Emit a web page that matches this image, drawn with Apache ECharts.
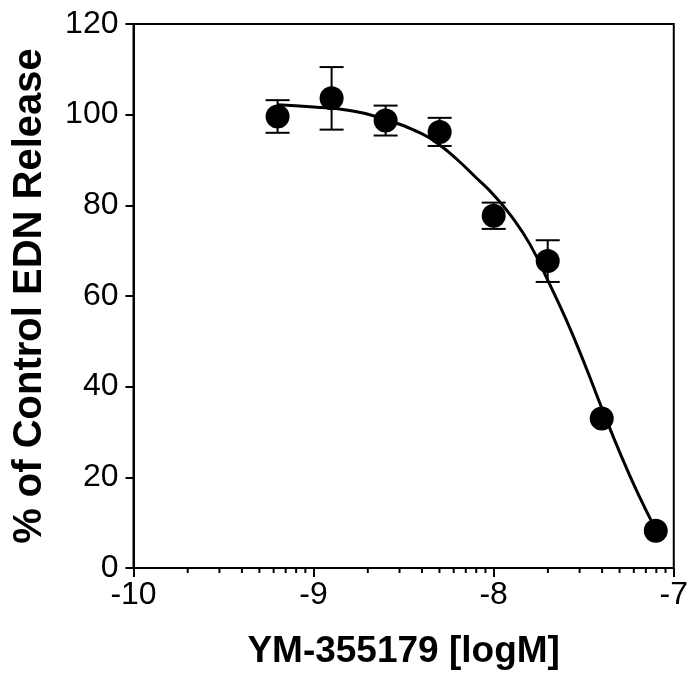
<!DOCTYPE html>
<html>
<head>
<meta charset="utf-8">
<script src="https://cdn.jsdelivr.net/npm/echarts@6/dist/echarts.min.js"></script>
<style>html,body{margin:0;padding:0;background:#fff}#c{width:691px;height:683px}</style>
</head>
<body>
<div id="c"></div>
<script>
// Measured points: log concentration, % of control, SEM
var doseLog = [-9.2, -8.9, -8.6, -8.3, -8.0, -7.7, -7.4, -7.1];
var response = [99.6, 103.6, 98.7, 96.2, 77.7, 67.7, 33.0, 8.2];
var sem = [3.6, 6.9, 3.3, 3.1, 2.9, 4.6, 0, 0];
// Fitted curve
var curveX = [-9.2, -9.0, -8.8, -8.6, -8.4, -8.3, -8.2, -8.1, -8.0, -7.9, -7.8, -7.7, -7.6, -7.5, -7.4, -7.3, -7.2, -7.1];
var curveY = [102.2, 101.7, 100.9, 98.9, 95.8, 93.3, 90.0, 86.2, 82.3, 77.5, 71.5, 63.5, 55.0, 45.5, 35.3, 25.5, 16.5, 8.5];
// Axis ticks
var xTicks = [-10, -9, -8, -7];
var yTicks = [0, 20, 40, 60, 80, 100, 120];
var minorMultipliers = [2, 3, 4, 5, 6, 7, 8, 9];

var minorTicks = [];
for (var d = 0; d < xTicks.length - 1; d++) {
  for (var k = 0; k < minorMultipliers.length; k++) {
    minorTicks.push([xTicks[d] + Math.log10(minorMultipliers[k]), 0]);
  }
}

var chart = echarts.init(document.getElementById('c'), null, {renderer: 'canvas'});
var font = 'Liberation Sans, Arial, sans-serif';
var option = {
  animation: false,
  backgroundColor: '#fff',
  grid: {left: 133.5, right: 14, top: 24, bottom: 115, show: true, borderColor: '#000', borderWidth: 2, containLabel: false},
  xAxis: {
    type: 'value', min: xTicks[0], max: xTicks[xTicks.length - 1], interval: 1,
    name: 'YM-355179 [logM]', nameLocation: 'middle', nameGap: 65,
    nameTextStyle: {fontFamily: font, fontWeight: 'bold', fontSize: 37, color: '#000'},
    axisLine: {show: true, onZero: false, lineStyle: {color: '#000', width: 2}},
    axisTick: {show: true, length: 9, lineStyle: {color: '#000', width: 2}},
    axisLabel: {fontFamily: font, fontSize: 32, color: '#000', margin: 11},
    splitLine: {show: false}
  },
  yAxis: {
    type: 'value', min: yTicks[0], max: yTicks[yTicks.length - 1], interval: 20,
    name: '% of Control EDN Release', nameLocation: 'middle', nameGap: 84,
    nameTextStyle: {fontFamily: font, fontWeight: 'bold', fontSize: 40, color: '#000'},
    axisLine: {show: true, onZero: false, lineStyle: {color: '#000', width: 2}},
    axisTick: {show: true, length: 8, lineStyle: {color: '#000', width: 2}},
    axisLabel: {fontFamily: font, fontSize: 32, color: '#000', margin: 15},
    splitLine: {show: false}
  },
  series: [
    {
      type: 'custom', name: 'minor', clip: false, silent: true, z: 3,
      data: minorTicks,
      renderItem: function (params, api) {
        var p = api.coord([api.value(0), api.value(1)]);
        return {type: 'line', shape: {x1: p[0], y1: p[1], x2: p[0], y2: p[1] + 5}, style: {stroke: '#000', lineWidth: 2}};
      }
    },
    {
      type: 'line', name: 'fit', smooth: true, showSymbol: false, silent: true, z: 4,
      data: curveX.map(function (x, i) { return [x, curveY[i]]; }),
      lineStyle: {color: '#000', width: 3}
    },
    {
      type: 'custom', name: 'err', clip: false, silent: true, z: 5,
      data: doseLog.map(function (x, i) { return [x, response[i], sem[i]]; }),
      renderItem: function (params, api) {
        var x = api.value(0), y = api.value(1), e = api.value(2);
        if (!e) return null;
        var top = api.coord([x, y + e]);
        var bot = api.coord([x, y - e]);
        var hw = 12;
        var st = {stroke: '#000', lineWidth: 2};
        return {type: 'group', children: [
          {type: 'line', shape: {x1: top[0], y1: top[1], x2: bot[0], y2: bot[1]}, style: st},
          {type: 'line', shape: {x1: top[0] - hw, y1: top[1], x2: top[0] + hw, y2: top[1]}, style: st},
          {type: 'line', shape: {x1: bot[0] - hw, y1: bot[1], x2: bot[0] + hw, y2: bot[1]}, style: st}
        ]};
      }
    },
    {
      type: 'scatter', name: 'data', symbol: 'circle', symbolSize: 24, z: 6,
      data: doseLog.map(function (x, i) { return [x, response[i]]; }),
      itemStyle: {color: '#000', opacity: 1}
    }
  ]
};
chart.setOption(option);
</script>
</body>
</html>
